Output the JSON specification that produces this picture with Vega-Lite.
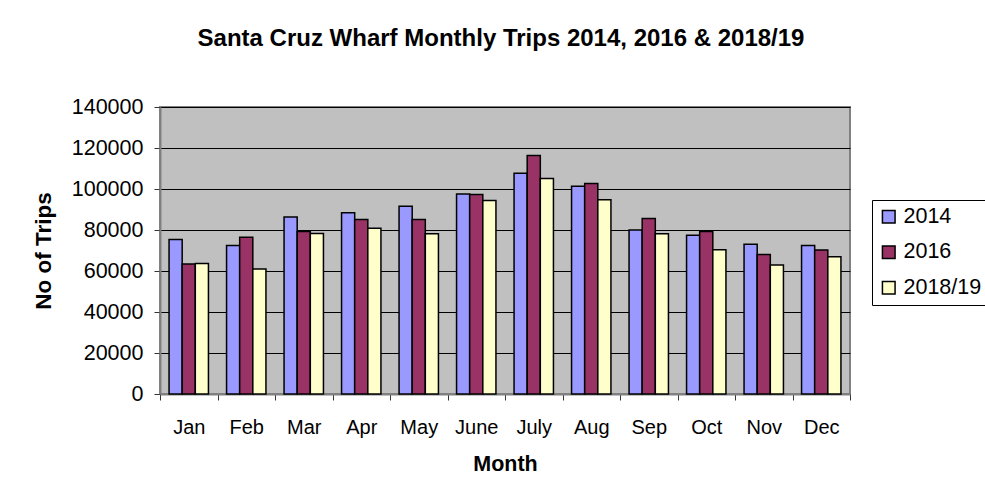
{
  "$schema": "https://vega.github.io/schema/vega-lite/v6.json",
  "width": 690,
  "height": 287,
  "autosize": {"type": "none"},
  "padding": {"left": 160, "top": 107, "right": 135, "bottom": 109},
  "background": "white",
  "title": {
    "text": "Santa Cruz Wharf Monthly Trips 2014, 2016 & 2018/19",
    "font": "Liberation Sans",
    "fontSize": 24,
    "fontWeight": "bold",
    "color": "black",
    "anchor": "middle",
    "frame": "group",
    "baseline": "alphabetic",
    "offset": 26,
    "dx": -4
  },
  "config": {
    "font": "Liberation Sans",
    "view": {"fill": "#C0C0C0", "stroke": "#808080", "strokeWidth": 2},
    "axis": {
      "labelFont": "Liberation Sans",
      "labelFontSize": 20,
      "labelColor": "black",
      "titleFont": "Liberation Sans",
      "titleFontSize": 21.5,
      "titleFontWeight": "bold",
      "titleColor": "black",
      "domainColor": "#808080",
      "domainWidth": 2,
      "tickColor": "#333333",
      "tickSize": 6,
      "tickWidth": 1
    }
  },
  "data": {
    "values": [
      {"month": "Jan", "series": "2014", "trips": 75400},
      {"month": "Jan", "series": "2016", "trips": 63400},
      {"month": "Jan", "series": "2018/19", "trips": 63600},
      {"month": "Feb", "series": "2014", "trips": 72500},
      {"month": "Feb", "series": "2016", "trips": 76500},
      {"month": "Feb", "series": "2018/19", "trips": 61000},
      {"month": "Mar", "series": "2014", "trips": 86400},
      {"month": "Mar", "series": "2016", "trips": 79300},
      {"month": "Mar", "series": "2018/19", "trips": 78300},
      {"month": "Apr", "series": "2014", "trips": 88400},
      {"month": "Apr", "series": "2016", "trips": 85100},
      {"month": "Apr", "series": "2018/19", "trips": 80900},
      {"month": "May", "series": "2014", "trips": 91600},
      {"month": "May", "series": "2016", "trips": 85100},
      {"month": "May", "series": "2018/19", "trips": 78200},
      {"month": "June", "series": "2014", "trips": 97600},
      {"month": "June", "series": "2016", "trips": 97300},
      {"month": "June", "series": "2018/19", "trips": 94400},
      {"month": "July", "series": "2014", "trips": 107700},
      {"month": "July", "series": "2016", "trips": 116300},
      {"month": "July", "series": "2018/19", "trips": 105100},
      {"month": "Aug", "series": "2014", "trips": 101400},
      {"month": "Aug", "series": "2016", "trips": 102700},
      {"month": "Aug", "series": "2018/19", "trips": 94700},
      {"month": "Sep", "series": "2014", "trips": 80000},
      {"month": "Sep", "series": "2016", "trips": 85600},
      {"month": "Sep", "series": "2018/19", "trips": 78200},
      {"month": "Oct", "series": "2014", "trips": 77400},
      {"month": "Oct", "series": "2016", "trips": 79300},
      {"month": "Oct", "series": "2018/19", "trips": 70400},
      {"month": "Nov", "series": "2014", "trips": 73000},
      {"month": "Nov", "series": "2016", "trips": 68100},
      {"month": "Nov", "series": "2018/19", "trips": 62900},
      {"month": "Dec", "series": "2014", "trips": 72500},
      {"month": "Dec", "series": "2016", "trips": 70200},
      {"month": "Dec", "series": "2018/19", "trips": 67000}
    ]
  },
  "mark": {"type": "bar", "stroke": "black", "strokeWidth": 1.5},
  "encoding": {
    "x": {
      "field": "month",
      "type": "nominal",
      "sort": ["Jan", "Feb", "Mar", "Apr", "May", "June", "July", "Aug", "Sep", "Oct", "Nov", "Dec"],
      "scale": {"paddingInner": 0, "paddingOuter": 0},
      "axis": {
        "title": "Month",
        "labelAngle": 0,
        "tickBand": "extent",
        "labelPadding": 17,
        "titlePadding": 16,
        "grid": false
      }
    },
    "xOffset": {
      "field": "series",
      "type": "nominal",
      "sort": ["2014", "2016", "2018/19"],
      "scale": {"paddingInner": 0, "paddingOuter": 0.69}
    },
    "y": {
      "field": "trips",
      "type": "quantitative",
      "scale": {"domain": [0, 140000], "nice": false},
      "axis": {
        "title": "No of Trips",
        "titleFontSize": 22.5,
        "values": [0, 20000, 40000, 60000, 80000, 100000, 120000, 140000],
        "format": "d",
        "labelFontSize": 21.5,
        "labelPadding": 11,
        "titlePadding": 16,
        "grid": true,
        "gridColor": "black",
        "gridWidth": 1,
        "gridOpacity": 1
      }
    },
    "color": {
      "field": "series",
      "type": "nominal",
      "sort": ["2014", "2016", "2018/19"],
      "scale": {"domain": ["2014", "2016", "2018/19"], "range": ["#9999FF", "#993366", "#FFFFCC"]},
      "legend": {
        "title": null,
        "orient": "none",
        "legendX": 712,
        "legendY": 93,
        "direction": "vertical",
        "fillColor": "white",
        "strokeColor": "black",
        "padding": 6,
        "symbolType": "square",
        "symbolSize": 160,
        "symbolStrokeColor": "black",
        "symbolStrokeWidth": 1.5,
        "symbolOpacity": 1,
        "labelFont": "Liberation Sans",
        "labelFontSize": 21.5,
        "labelColor": "black",
        "labelOffset": 4,
        "rowPadding": 12.5
      }
    }
  }
}
